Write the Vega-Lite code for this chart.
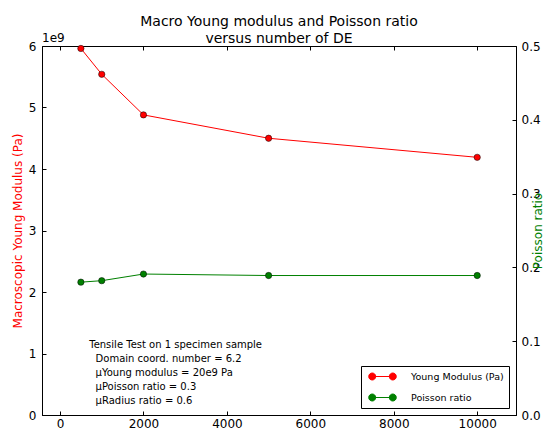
{
  "$schema": "https://vega.github.io/schema/vega-lite/v6.json",
  "width": 474,
  "height": 369,
  "autosize": {"type": "none"},
  "padding": {"left": 42, "top": 46, "right": 36, "bottom": 15},
  "background": "white",
  "config": {
    "font": "DejaVu Sans",
    "view": {"stroke": "#000", "strokeWidth": 1},
    "axis": {"grid": false, "domainColor": "#000", "tickColor": "#000", "labelColor": "#000", "labelFontSize": 12, "labelFont": "DejaVu Sans", "titleFont": "DejaVu Sans", "titleFontWeight": "normal", "titleFontSize": 12, "tickSize": -4, "labelPadding": 10}
  },
  "title": {"text": ["Macro Young modulus and Poisson ratio", "versus number of DE"], "fontSize": 14, "fontWeight": "normal", "font": "DejaVu Sans", "lineHeight": 17, "offset": 6, "dy": 20, "anchor": "middle", "color": "#000"},
  "data": {"values": [
    {"n": 500, "young": 5.96e9, "poisson": 0.180},
    {"n": 1000, "young": 5.54e9, "poisson": 0.182},
    {"n": 2000, "young": 4.88e9, "poisson": 0.191},
    {"n": 5000, "young": 4.50e9, "poisson": 0.189},
    {"n": 10000, "young": 4.19e9, "poisson": 0.189}
  ]},
  "layer": [
    {
      "layer": [
        {
          "mark": {"type": "line", "color": "#ff0000", "strokeWidth": 1, "point": {"filled": true, "fill": "#ff0000", "stroke": "#000", "strokeWidth": 0.5, "size": 40, "opacity": 1}},
          "encoding": {
            "x": {"field": "n", "type": "quantitative", "scale": {"domain": [-432, 10930], "nice": false},
                  "axis": {"orient": "bottom", "values": [0, 2000, 4000, 6000, 8000, 10000], "format": "d", "title": null, "labelPadding": 7}},
            "y": {"field": "young", "type": "quantitative", "scale": {"domain": [0, 6e9], "nice": false},
                  "axis": {"orient": "left", "values": [0, 1e9, 2e9, 3e9, 4e9, 5e9, 6e9], "labelExpr": "format(datum.value/1e9, 'd')", "title": "Macroscopic Young Modulus (Pa)", "titleColor": "#ff0000", "titlePadding": 4}},
            "color": {"datum": "Young Modulus (Pa)", "type": "nominal",
                      "scale": {"domain": ["Young Modulus (Pa)", "Poisson ratio"], "range": ["#ff0000", "#008000"]},
                      "legend": {"title": null, "orient": "bottom-right", "offset": 7, "strokeColor": "#000", "fillColor": "white", "padding": 5, "cornerRadius": 0,
                                 "labelFontSize": 9.5, "labelFont": "DejaVu Sans", "labelColor": "#000", "rowPadding": 10, "symbolSize": 100, "labelOffset": 34,
                                 "symbolType": "M0.14,0L4.26,0M0.84,0A0.7,0.7,0,1,1,-0.56,0A0.7,0.7,0,1,1,0.84,0ZM4.96,0A0.7,0.7,0,1,1,3.56,0A0.7,0.7,0,1,1,4.96,0Z",
                                 "symbolStrokeWidth": 1,
                                 "encode": {"symbols": {"update": {"fill": {"scale": "color", "field": "value"}, "stroke": {"scale": "color", "field": "value"}, "opacity": {"value": 1}}}}}}
          }
        },
        {
          "data": {"values": [{"label": "1e9"}]},
          "mark": {"type": "text", "align": "left", "baseline": "bottom", "fontSize": 12, "font": "DejaVu Sans", "color": "#000", "dy": -1},
          "encoding": {
            "x": {"datum": -432, "type": "quantitative"},
            "y": {"datum": 6e9, "type": "quantitative"},
            "text": {"field": "label"}
          }
        },
        {
          "data": {"values": [{"note": ["Tensile Test on 1 specimen sample", "\u200d\u00a0\u00a0Domain coord. number = 6.2", "\u200d\u00a0\u00a0\u03bcYoung modulus = 20e9 Pa", "\u200d\u00a0\u00a0\u03bcPoisson ratio = 0.3", "\u200d\u00a0\u00a0\u03bcRadius ratio = 0.6"]}]},
          "mark": {"type": "text", "align": "left", "baseline": "middle", "fontSize": 10, "font": "DejaVu Sans", "color": "#000", "lineHeight": 14},
          "encoding": {
            "x": {"datum": 700, "type": "quantitative"},
            "y": {"datum": 1.135e9, "type": "quantitative"},
            "text": {"field": "note"}
          }
        }
      ]
    },
    {
      "mark": {"type": "line", "color": "#008000", "strokeWidth": 1, "point": {"filled": true, "fill": "#008000", "stroke": "#000", "strokeWidth": 0.5, "size": 40, "opacity": 1}},
      "encoding": {
        "x": {"field": "n", "type": "quantitative", "axis": {"orient": "top", "values": [0, 2000, 4000, 6000, 8000, 10000], "labels": false, "title": null, "domain": false}},
        "y": {"field": "poisson", "type": "quantitative", "scale": {"domain": [0, 0.5], "nice": false},
              "axis": {"orient": "right", "values": [0, 0.1, 0.2, 0.3, 0.4, 0.5], "format": ".1f", "title": "Poisson ratio", "titleColor": "#008000", "titleAngle": 270, "titlePadding": 4, "labelPadding": 9}},
        "color": {"datum": "Poisson ratio", "type": "nominal"}
      }
    }
  ],
  "resolve": {"scale": {"y": "independent"}, "axis": {"x": "independent"}}
}
